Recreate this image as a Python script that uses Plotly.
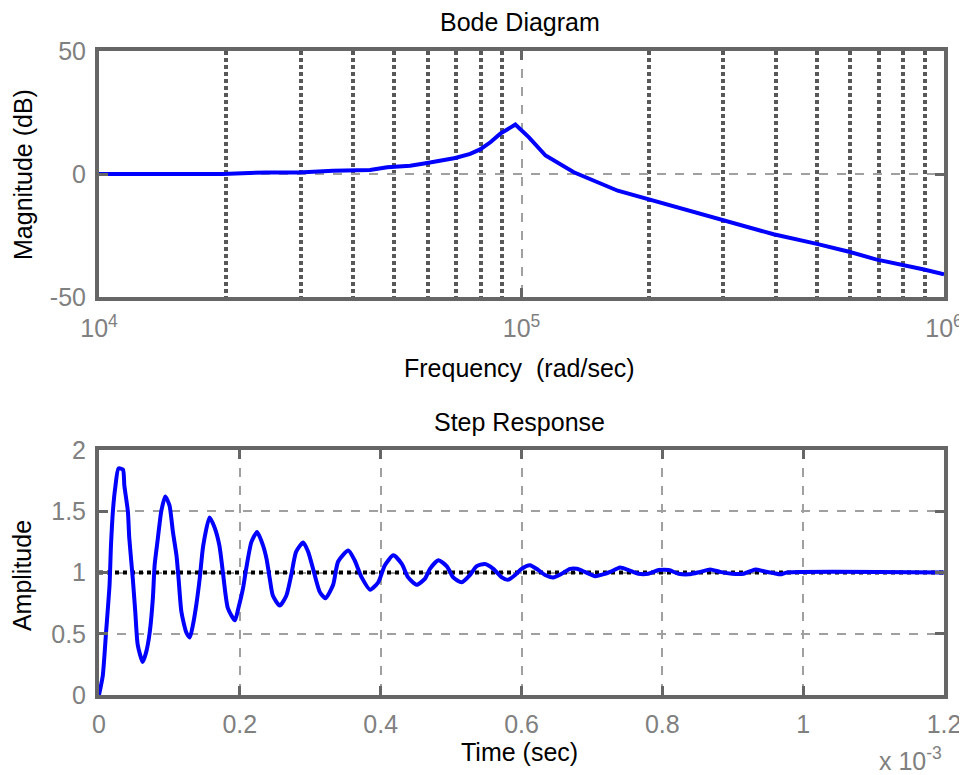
import plotly.graph_objects as go

# ---- Bode magnitude data ----
freq = [1e4, 1.96e4, 2.5e4, 2.97e4, 3.58e4, 4.38e4, 4.81e4, 5.45e4, 5.98e4, 6.97e4,
        7.56e4, 7.98e4, 8.44e4, 8.91e4, 9.67e4, 1.04e5, 1.14e5, 1.33e5, 1.69e5, 1.99e5,
        2.96e5, 3.95e5, 4.97e5, 5.96e5, 6.9e5, 7.91e5, 8.97e5, 1e6]
mag_db = [0, 0, 0.65, 0.6, 1.3, 1.6, 2.7, 3.4, 4.5, 6.5,
          8.2, 10.0, 12.9, 16.4, 20.1, 15.0, 7.5, 0.7, -6.8, -10.2,
          -18.8, -24.5, -28.3, -31.6, -34.7, -36.7, -38.8, -40.8]

# ---- Step response data (time in units of 1e-3 s) ----
time_ms = [0, 0.0054, 0.010, 0.015, 0.017, 0.020, 0.023, 0.0277, 0.034, 0.036,
           0.041, 0.043, 0.048, 0.0515, 0.055, 0.062, 0.067, 0.072, 0.0765, 0.079,
           0.0836, 0.0884, 0.094, 0.100, 0.105, 0.110, 0.113, 0.117, 0.124, 0.129,
           0.133, 0.138, 0.143, 0.148, 0.157, 0.164, 0.171, 0.176, 0.183, 0.193,
           0.198, 0.2045, 0.209, 0.2165, 0.2245, 0.233, 0.238, 0.2425, 0.247, 0.2567,
           0.266, 0.273, 0.280, 0.290, 0.297, 0.304, 0.3136, 0.3217, 0.3325, 0.3396,
           0.354, 0.363, 0.373, 0.385, 0.3965, 0.406, 0.418, 0.430, 0.439, 0.451,
           0.463, 0.470, 0.482, 0.494, 0.503, 0.515, 0.527, 0.536, 0.548, 0.560,
           0.572, 0.5805, 0.591, 0.600, 0.612, 0.624, 0.6335, 0.645, 0.657, 0.669,
           0.6786, 0.690, 0.7046, 0.719, 0.726, 0.740, 0.752, 0.766, 0.780, 0.795,
           0.809, 0.823, 0.837, 0.854, 0.868, 0.882, 0.899, 0.9155, 0.932, 0.944,
           0.958, 0.9677, 0.977, 1.2]
amplitude = [0, 0.16, 0.51, 0.90, 1.22, 1.52, 1.69, 1.85, 1.84, 1.71,
             1.50, 1.28, 0.95, 0.68, 0.41, 0.27, 0.35, 0.51, 0.79, 1.06,
             1.28, 1.50, 1.62, 1.55, 1.33, 1.14, 0.95, 0.68, 0.51, 0.47,
             0.56, 0.73, 0.95, 1.22, 1.45, 1.37, 1.22, 1.00, 0.71, 0.61,
             0.71, 0.87, 1.03, 1.25, 1.33, 1.22, 1.11, 0.95, 0.81, 0.73,
             0.81, 0.98, 1.17, 1.245, 1.17, 1.03, 0.84, 0.79, 0.90, 1.09,
             1.18, 1.10, 0.96, 0.86, 0.92, 1.06, 1.14, 1.07, 0.96, 0.90,
             0.95, 1.03, 1.10, 1.05, 0.96, 0.92, 0.98, 1.05, 1.07, 1.03,
             0.96, 0.94, 0.98, 1.03, 1.06, 1.02, 0.98, 0.96, 0.99, 1.03,
             1.03, 1.005, 0.97, 0.99, 1.005, 1.04, 1.02, 0.99, 0.99, 1.02,
             1.02, 0.99, 0.985, 1.005, 1.025, 1.005, 0.99, 0.99, 1.025, 1.01,
             0.995, 0.985, 1.0, 1.0]

steady_t = [0, 1.2]
steady_amp = [1, 1]

bode_ticks = [1e4, 1e5, 1e6]
bode_ticktext = ["10<sup>4</sup>", "10<sup>5</sup>", "10<sup>6</sup>"]
bode_minor = [2e4, 3e4, 4e4, 5e4, 6e4, 7e4, 8e4, 9e4,
              2e5, 3e5, 4e5, 5e5, 6e5, 7e5, 8e5, 9e5]
mag_ticks = [-50, 0, 50]
mag_ticktext = ["-50", "0", "50"]
time_ticks = [0, 0.2, 0.4, 0.6, 0.8, 1, 1.2]
time_ticktext = ["0", "0.2", "0.4", "0.6", "0.8", "1", "1.2"]
amp_ticks = [0, 0.5, 1, 1.5, 2]
amp_ticktext = ["0", "0.5", "1", "1.5", "2"]

FRAME = "#666666"
GRID = "#a0a0a0"
TICKFONT = dict(family="Liberation Sans, Arial", size=25, color="#808080")
LABELFONT = dict(family="Liberation Sans, Arial", size=25, color="#000000")

fig = go.Figure()
fig.add_trace(go.Scatter(x=freq, y=mag_db, mode="lines",
                         line=dict(color="#0000ff", width=4),
                         xaxis="x", yaxis="y", showlegend=False))
fig.add_trace(go.Scatter(x=steady_t, y=steady_amp, mode="lines",
                         line=dict(color="#000000", width=4, dash="dot"),
                         xaxis="x2", yaxis="y2", showlegend=False))
fig.add_trace(go.Scatter(x=time_ms, y=amplitude, mode="lines",
                         line=dict(color="#0000ff", width=4, shape="spline", smoothing=0.6),
                         xaxis="x2", yaxis="y2", showlegend=False))

common = dict(showline=True, linecolor=FRAME, linewidth=4, mirror="ticks",
              ticks="inside", ticklen=9, tickwidth=3, tickcolor=FRAME,
              showgrid=True, gridcolor=GRID, gridwidth=1.5, griddash="dash",
              zeroline=False, tickfont=TICKFONT, automargin=False)

# the page body adds an 8px offset, so the figure is 8px smaller than the window
fig.update_layout(
    width=959, height=767,
    paper_bgcolor="white", plot_bgcolor="white",
    margin=dict(l=91, r=23, t=43, b=80, autoexpand=False),
    xaxis=dict(type="log", range=[4, 6], tickmode="array", tickvals=bode_ticks,
               ticktext=bode_ticktext, domain=[0, 1], anchor="y",
               ticklabelstandoff=6,
               minor=dict(tickmode="array", tickvals=bode_minor, showgrid=True,
                          griddash="dot", gridcolor="#585858", gridwidth=3.5, ticks=""),
               **common),
    yaxis=dict(range=[-50, 50], tickmode="array", tickvals=mag_ticks,
               ticktext=mag_ticktext,
               domain=[0.618, 1], anchor="x", ticklabelstandoff=4, **common),
    xaxis2=dict(range=[0, 1.2], tickmode="array", tickvals=time_ticks,
                ticktext=time_ticktext,
                domain=[0, 1], anchor="y2", ticklabelstandoff=4, **common),
    yaxis2=dict(range=[0, 2], tickmode="array", tickvals=amp_ticks,
                ticktext=amp_ticktext,
                domain=[0, 0.3804], anchor="x2", ticklabelstandoff=4, **common),
    annotations=[
        dict(text="Bode Diagram", x=0.498, y=1.045, xref="paper", yref="paper",
             showarrow=False, font=LABELFONT, xanchor="center", yanchor="middle"),
        dict(text="Frequency  (rad/sec)", x=0.498, y=0.5078, xref="paper", yref="paper",
             showarrow=False, font=LABELFONT, xanchor="center", yanchor="middle"),
        dict(text="Magnitude (dB)", x=-0.0899, y=0.8075, xref="paper", yref="paper",
             showarrow=False, font=LABELFONT, textangle=-90, xanchor="center", yanchor="middle"),
        dict(text="Step Response", x=0.498, y=0.424, xref="paper", yref="paper",
             showarrow=False, font=LABELFONT, xanchor="center", yanchor="middle"),
        dict(text="Amplitude", x=-0.091, y=0.1848, xref="paper", yref="paper",
             showarrow=False, font=LABELFONT, textangle=-90, xanchor="center", yanchor="middle"),
        dict(text="Time (sec)", x=0.498, y=-0.0885, xref="paper", yref="paper",
             showarrow=False, font=LABELFONT, xanchor="center", yanchor="middle"),
        dict(text="x 10<sup>-3</sup>", x=0.96, y=-0.127, xref="paper", yref="paper",
             showarrow=False, font=TICKFONT, xanchor="center", yanchor="bottom"),
    ],
)

fig.write_html("out.html")
